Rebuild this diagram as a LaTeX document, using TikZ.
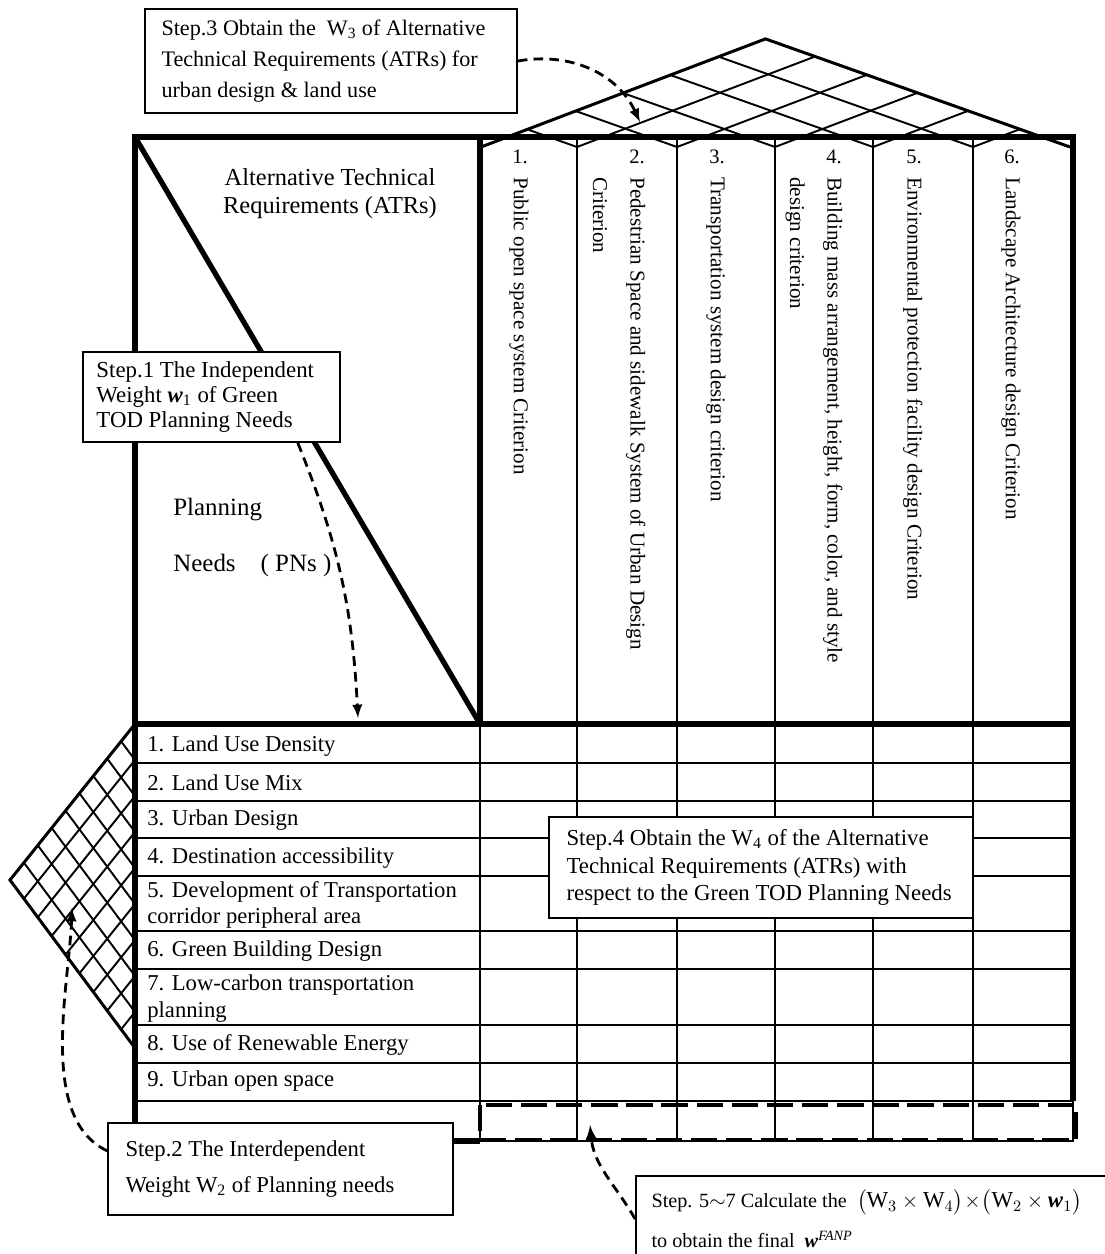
\documentclass[tikz,border=0pt]{standalone}
\usepackage{amsmath}
\usepackage{fontspec}
\setmainfont{Liberation Serif}
\usepackage{tikz}
\usetikzlibrary{arrows,positioning}
\tikzset{>=latex}

\begin{document}
\begin{tikzpicture}[x=0.02cm, y=-0.02cm]
  % coordinates are pixels of the original figure (y grows downwards)
  \tikzstyle{thickline}=[line width=3pt]
  \tikzstyle{gridline}=[line width=1.1pt]
  \tikzstyle{lattice}=[line width=1.1pt]
  \tikzstyle{roofedge}=[line width=1.7pt, line join=miter]
  \tikzstyle{stepbox}=[draw, line width=1pt, fill=white, inner sep=0pt]
  \tikzstyle{steptext}=[align=left, inner sep=0pt, anchor=west]
  \tikzstyle{steparrow}=[->, line width=1.6pt, dash pattern=on 5.5pt off 3.5pt]
  \tikzstyle{rowlabel}=[anchor=west, align=left, inner sep=0pt, font=\fontsize{12.9}{15}\selectfont]
  \tikzstyle{colhead}=[rotate=-90, anchor=north west, align=left, inner sep=0pt, font=\fontsize{12}{21.3}\selectfont]
  \tikzstyle{colnum}=[inner sep=0pt, font=\fontsize{11.7}{13}\selectfont]

  \useasboundingbox (0,0) rectangle (1105,1254);

  % roof
  \foreach \xa in {481,577,677,775,873,973} {
    \pgfmathsetmacro{\xe}{(0.38*\xa+379.85)/0.735}
    \pgfmathsetmacro{\ye}{147-0.38*(\xe-\xa)}
    \draw[lattice] (\xa,147) -- (\xe,\ye);
  }
  \foreach \xb in {577,677,775,873,973,1070} {
    \pgfmathsetmacro{\xe}{(182.78+0.355*\xb)/0.735}
    \pgfmathsetmacro{\ye}{147-0.355*(\xb-\xe)}
    \draw[lattice] (\xb,147) -- (\xe,\ye);
  }
  \coordinate (apex) at (765.5,38.9);
  \draw[roofedge] (481,147) -- (apex) -- (1070,147);

  % left wall
  \foreach \k in {0,...,8} {
    \draw[lattice] ({10+13.889*\k},{880-17.333*\k}) -- (135,{1048-36*\k});
    \draw[lattice] ({10+13.889*\k},{880+18.667*\k}) -- (135,{724+36*\k});
  }
  \draw[roofedge] (135,724) -- (10,880) -- (135,1048);

  % the house
  \foreach \yr in {763,801,838,876,931,969,1025,1063,1101}
    \draw[gridline] (135,\yr) -- (1073,\yr);
  \foreach \xc in {577,677,775,873,973}
    \draw[gridline] (\xc,137) -- (\xc,1141);
  \draw[gridline] (480,724) -- (480,1141) -- (1073,1141) -- (1073,1101);
  \draw[thickline] (1073,1101) -- (1073,137) -- (135,137) -- (135,1141) -- (480,1141);
  \draw[thickline] (480,137) -- (480,724);
  \draw[thickline] (135,724) -- (1073,724);
  \draw[thickline] (135,137) -- (480,724);
  \draw[line width=2.4pt, dash pattern=on 15pt off 5pt] (480,1105) rectangle (1076,1140);

  % headers
  \node[font=\fontsize{13.9}{15.9}\selectfont, align=center, inner sep=0pt] (atr) at (330,194) {Alternative Technical\\Requirements (ATRs)};
  \node[font=\fontsize{14.2}{16}\selectfont, anchor=west, inner sep=0pt] (pl) at (173,510) {Planning};
  \node[font=\fontsize{14.2}{16}\selectfont, anchor=west, inner sep=0pt] (pn) at (173,565) {Needs\quad( PNs )};

  \node[colnum] (n1) at (520,157) {1.};
  \node[colnum] (n2) at (637,157) {2.};
  \node[colnum] (n3) at (717,157) {3.};
  \node[colnum] (n4) at (834,157) {4.};
  \node[colnum] (n5) at (914,157) {5.};
  \node[colnum] (n6) at (1012,157) {6.};
  \node[colhead] (c1) at (528.8,177) {Public open space system Criterion};
  \node[colhead] (c2) at (645.8,177) {Pedestrian Space and sidewalk System of Urban Design\\Criterion};
  \node[colhead] (c3) at (725.8,177) {Transportation system design criterion};
  \node[colhead] (c4) at (842.8,177) {Building mass arrangement, height, form, color, and style\\design criterion};
  \node[colhead] (c5) at (922.8,177) {Environmental protection facility design Criterion};
  \node[colhead] (c6) at (1020.8,177) {Landscape Architecture design Criterion};

  \node[rowlabel] (r1) at (147,746.5) {1. Land Use Density};
  \node[rowlabel] (r2) at (147,783) {2. Land Use Mix};
  \node[rowlabel] (r3) at (147,820) {3. Urban Design};
  \node[rowlabel] (r4) at (147,858) {4. Destination accessibility};
  \node[rowlabel] (r5) at (147,905) {5. Development of Transportation\\corridor peripheral area};
  \node[rowlabel] (r6) at (147,951.5) {6. Green Building Design};
  \node[rowlabel] (r7) at (147,998.5) {7. Low-carbon transportation\\planning};
  \node[rowlabel] (r8) at (147,1045) {8. Use of Renewable Energy};
  \node[rowlabel] (r9) at (147,1081.5) {9. Urban open space};

  % steps
  \node[stepbox, minimum width=7.44cm, minimum height=2.08cm] (s3box) at (331,61) {};
  \node[steptext, right=0.34cm of s3box.west, font=\fontsize{12.6}{17.6}\selectfont] (s3) {Step.3 Obtain the\ \ W\textsubscript{3} of Alternative\\Technical Requirements (ATRs) for\\urban design \& land use};

  \node[stepbox, minimum width=5.14cm, minimum height=1.8cm] (s1box) at (211.5,397) {};
  \node[steptext, right=0.28cm of s1box.west, font=\fontsize{13}{14.2}\selectfont] (s1) {Step.1 The Independent\\Weight \textbf{\textit{w}}\textsubscript{1} of Green\\TOD Planning Needs};

  \node[stepbox, minimum width=8.48cm, minimum height=2.02cm] (s4box) at (761,867.5) {};
  \node[steptext, right=0.36cm of s4box.west, font=\fontsize{13}{15.8}\selectfont] (s4) {Step.4 Obtain the W\textsubscript{4} of the Alternative\\Technical Requirements (ATRs) with\\respect to the Green TOD Planning Needs};

  \node[stepbox, minimum width=6.9cm, minimum height=1.84cm] (s2box) at (280.5,1169) {};
  \node[steptext, right=0.36cm of s2box.west, font=\fontsize{12.9}{20.7}\selectfont] (s2) {Step.2 The Interdependent\\Weight W\textsubscript{2} of Planning needs};

  \node[stepbox, minimum width=9.78cm, minimum height=1.72cm] (s5box) at (880.5,1219) {};
  \node[steptext, right=0.32cm of s5box.west, font=\fontsize{11.5}{22.7}\selectfont] (s5) {Step. 5$\sim$7 Calculate the\ \ {\fontsize{13}{22.7}\selectfont$\bigl(\text{W}_3\times\text{W}_4\bigr)\!\times\!\bigl(\text{W}_2\times\text{\textbf{\textit{w}}}_1\bigr)$}\\to obtain the final\ \ $\text{\textbf{\textit{w}}}^{\text{\textit{FANP}}}$};

  % dashed arrows
  \coordinate (t3) at (640,122);
  \coordinate (t1) at (358,718);
  \coordinate (t2) at (72,908);
  \coordinate (t5) at (590,1125);
  \draw[steparrow] (s3box.east) to[out=10, in=115] (t3);
  \draw[steparrow] (s1box.-28) to[out=-68, in=93] (t1);
  \draw[steparrow] (s2box.174) to[out=155, in=-92, looseness=0.8] (t2);
  \draw[steparrow] (s5box.west) to[out=120, in=-85] (t5);
\end{tikzpicture}
\end{document}
